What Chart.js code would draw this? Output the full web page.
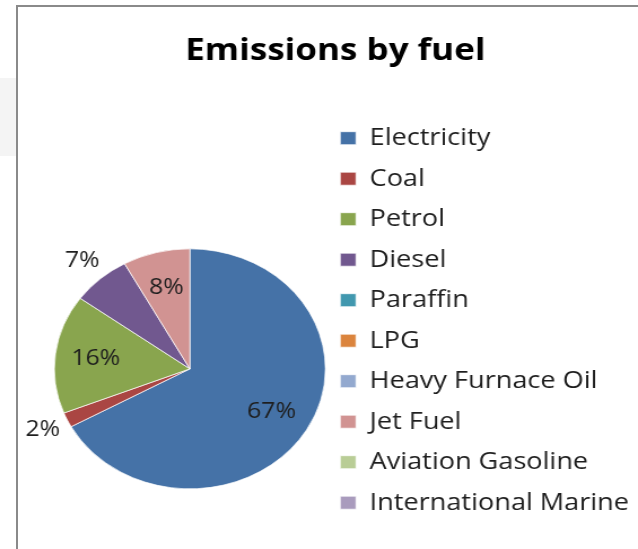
<!DOCTYPE html>
<html>
<head>
<meta charset="utf-8">
<script src="https://cdn.jsdelivr.net/npm/chart.js@4/dist/chart.umd.min.js"></script>
<style>
  html, body { margin: 0; padding: 0; background: #fff; overflow: hidden; width: 638px; height: 549px; }
  #shade { position: absolute; left: 0; top: 78px; width: 16px; height: 78px; background: #f4f4f4; }
  #frame { position: absolute; left: 16px; top: 5px; width: 700px; height: 700px; border: 2px solid #8a8a8a; }
  #wrap { position: absolute; left: 0; top: 0; transform: scaleX(1.1292); transform-origin: 0 0; }
  #chartCanvas { display: block; }
</style>
</head>
<body>
<div id="shade"></div>
<div id="frame"></div>
<div id="wrap"><canvas id="chartCanvas" width="568" height="628"></canvas></div>
<script>
var LABELS = ['Electricity', 'Coal', 'Petrol', 'Diesel', 'Paraffin', 'LPG',
  'Heavy Furnace Oil', 'Jet Fuel', 'Aviation Gasoline', 'International Marine']
var VALUES = [67, 2, 16, 7, 0, 0, 0, 8, 0, 0]
var COLORS = ['#4572A7', '#AA4643', '#89A54E', '#71588F', '#4198AF', '#DB843D',
  '#93A9CF', '#D19392', '#B9CD96', '#A99BBD']
// labels Excel put outside the pie
var OUTSIDE = ['Coal', 'Diesel']
// pie sits right of where the title centring would put it
var PIE_SHIFT = 24.5

Chart.defaults.font.family = '"Open Sans", sans-serif'

var pieShift = {
  id: 'pieShift',
  afterLayout: function(chart) {
    chart.chartArea.left += PIE_SHIFT
    chart.chartArea.width -= PIE_SHIFT
  }
}

var pctLabels = {
  id: 'pctLabels',
  afterDatasetsDraw: function(chart) {
    var ctx = chart.ctx
    var meta = chart.getDatasetMeta(0)
    var data = chart.data.datasets[0].data
    var total = data.reduce((a, b) => a + b, 0)
    ctx.save()
    ctx.font = '22px "Open Sans"'
    ctx.fillStyle = '#1e1e1e'
    ctx.textAlign = 'center'
    ctx.textBaseline = 'middle'
    meta.data.forEach((arc, i) => {
      if (!data[i]) return
      var p = arc.getProps(['x', 'y', 'startAngle', 'endAngle', 'outerRadius'], true)
      var mid = (p.startAngle + p.endAngle) / 2
      var f = OUTSIDE.indexOf(chart.data.labels[i]) >= 0 ? 1.2 : 0.7
      ctx.fillText(Math.round(data[i] / total * 100) + '%',
        p.x + Math.cos(mid) * p.outerRadius * f,
        p.y + Math.sin(mid) * p.outerRadius * f)
    })
    ctx.restore()
  }
}

new Chart(document.getElementById('chartCanvas'), {
  type: 'pie',
  data: {
    labels: LABELS,
    datasets: [{
      data: VALUES,
      backgroundColor: COLORS,
      borderColor: 'rgba(255,255,255,0.7)',
      borderWidth: 1,
      radius: 120
    }]
  },
  options: {
    responsive: false,
    animation: false,
    devicePixelRatio: 1,
    layout: { padding: { left: 27, right: 1, top: 0, bottom: 0 } },
    plugins: {
      tooltip: { enabled: false },
      title: {
        display: true,
        text: 'Emissions by fuel',
        color: '#000',
        font: { size: 31, weight: 'bold' },
        padding: { top: 32.5, bottom: 40 }
      },
      legend: {
        position: 'right',
        align: 'start',
        fullSize: false,
        maxWidth: 300,
        labels: {
          color: '#1e1e1e',
          font: { size: 24 },
          boxWidth: 14,
          boxHeight: 13,
          padding: 16.5
        }
      }
    }
  },
  plugins: [pieShift, pctLabels]
})
</script>
</body>
</html>
